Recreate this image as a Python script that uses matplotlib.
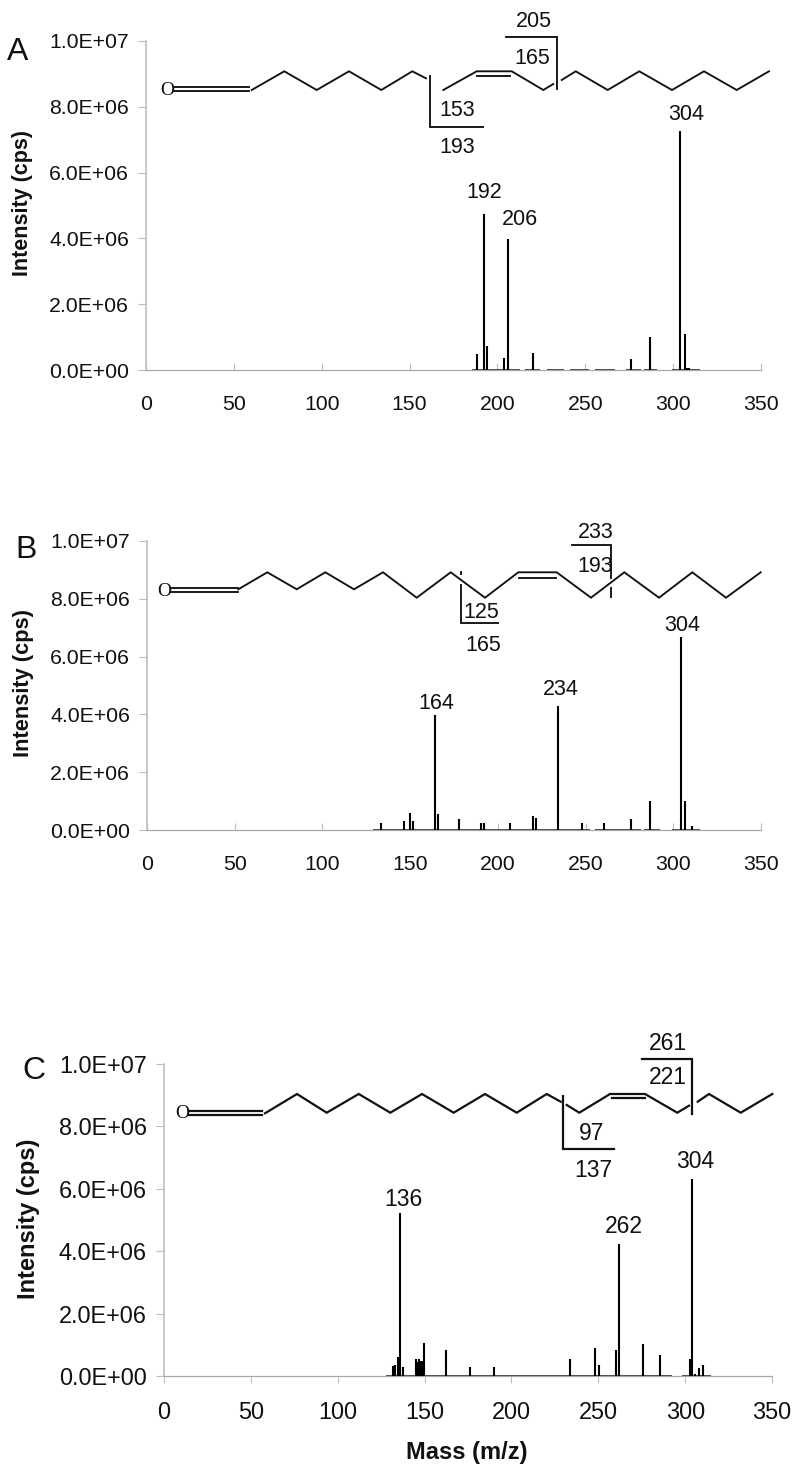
import matplotlib
matplotlib.use('Agg')
import matplotlib.pyplot as plt

plt.rcParams['font.family'] = ['Liberation Sans', 'DejaVu Sans']

W, H = 800, 1474

##%------------ data -----------
ticks_x = [0, 50, 100, 150, 200, 250, 300, 350]
ticks_y = [0, 2e6, 4e6, 6e6, 8e6, 1e7]
ticks_y_labels = ['0.0E+00', '2.0E+06', '4.0E+06', '6.0E+06', '8.0E+06', '1.0E+07']

mz_a = [188.5, 192.5, 194, 204, 206, 220, 276, 287, 304, 306.7, 308, 309]
int_a = [0.48e6, 4.73e6, 0.74e6, 0.37e6, 3.97e6, 0.53e6, 0.32e6, 0.99e6, 7.26e6, 1.09e6, 0.07e6, 0.07e6]
base_a = [(185.7, 212.8), (215.6, 224.2), (228, 237.8), (241.3, 252.3), (255.5, 266.9), (273, 281.5), (283.6, 291), (299.2, 315.3)]

mz_b = [133.4, 146.7, 149.7, 151.7, 164, 166, 178, 190.4, 192.3, 206.8, 220.2, 222, 234, 248, 260.7, 276, 286.8, 304.5, 306.5, 310.7]
int_b = [0.25e6, 0.3e6, 0.6e6, 0.3e6, 3.99e6, 0.54e6, 0.37e6, 0.25e6, 0.25e6, 0.25e6, 0.48e6, 0.43e6, 4.28e6, 0.25e6, 0.25e6, 0.37e6, 1.01e6, 6.68e6, 1.01e6, 0.14e6]
base_b = [(129, 252.5), (255.3, 281.6), (283.5, 292.4), (299, 315)]

mz_c = [132, 133.2, 134.5, 136, 137.6, 145, 146, 147, 148, 148.7, 149.7, 162.2, 176.2, 190.2, 234, 248.1, 250.2, 260, 262, 276, 285.6, 302.8, 304, 305.6, 308, 310]
int_c = [0.32e6, 0.35e6, 0.6e6, 5.24e6, 0.3e6, 0.53e6, 0.46e6, 0.53e6, 0.49e6, 0.47e6, 1.07e6, 0.83e6, 0.3e6, 0.3e6, 0.53e6, 0.9e6, 0.36e6, 0.83e6, 4.23e6, 1.01e6, 0.66e6, 0.53e6, 6.31e6, 0.06e6, 0.25e6, 0.36e6]
base_c = [(127.8, 292.3), (298, 315)]

## ------------ structures, in image pixels -----------
struct_a = [
    [(174, 87.3), (249, 87.3)], [(174, 91), (249, 91)],
    [(251.7, 90), (284.3, 71.3), (316.7, 90), (349, 71.3), (381.3, 90), (412.3, 71.3), (426, 78.3)],
    [(443.3, 90), (476.7, 71.3), (511.7, 71.3), (543.3, 90), (553.3, 84)],
    [(476.7, 76), (510, 76)],
    [(561.7, 80), (575.7, 71.3), (607.7, 90), (639.3, 71.3), (672, 90), (704, 71.3), (736.7, 90), (769, 71.3)],
    [(430, 76), (430, 127), (483, 127)],
    [(505.7, 37), (556.7, 37), (556.7, 89)],
]
struct_b = [
    [(170.7, 588), (237.7, 588)], [(170.7, 592.3), (237.7, 592.3)],
    [(238.3, 589.3), (267.3, 572.3), (296.7, 589.3), (325.3, 572.3), (354, 589.3), (383, 572.3), (416.7, 597.7),
     (450.7, 572.3), (485, 597.7), (518.3, 572.3), (556.7, 572.3), (591, 597.7), (624.3, 572.3), (659, 597.7),
     (692.3, 572.3), (726, 597.7), (760.7, 572.3)],
    [(519.3, 577.7), (556, 577.7)],
    [(460.7, 571.7), (460.7, 573.5)],
    [(460.7, 585), (460.7, 623.3), (498.3, 623.3)],
    [(571.7, 545), (611, 545), (611, 578)],
    [(611, 588), (611, 597)],
]
struct_c = [
    [(189.3, 1110.7), (262.3, 1110.7)], [(189.3, 1115), (262.3, 1115)],
    [(265, 1113.3), (297, 1094), (326.7, 1112.7), (358.7, 1094), (390.3, 1112.7), (422, 1094), (453.7, 1112.7),
     (485, 1094), (516.7, 1112.7), (546.7, 1094), (560.7, 1101.7)],
    [(566.7, 1105), (579.3, 1112.7), (610, 1094), (645, 1094), (677.3, 1112.7), (689, 1105.7)],
    [(611.7, 1098), (645, 1098)],
    [(697.7, 1101.7), (709, 1094), (740.7, 1112.7), (772.3, 1094)],
    [(563.3, 1096), (563.3, 1149.3), (614.3, 1149.3)],
    [(641.7, 1059), (692, 1059), (692, 1114)],
]

# label, x, y in image pixels
labels_a = [('205', 534.3, 20), ('165', 532.7, 56.7), ('153', 456.7, 109), ('193', 456.7, 146),
            ('304', 686.7, 112.7), ('192', 484, 191), ('206', 520, 218)]
labels_b = [('233', 596, 531), ('193', 595, 565), ('125', 481.7, 611), ('165', 483.3, 644),
            ('304', 682.7, 624), ('164', 436, 702), ('234', 561, 688)]
labels_c = [('261', 668.3, 1041.7), ('221', 668.3, 1076), ('97', 591.7, 1131.7), ('137', 593.3, 1169),
            ('304', 695, 1160), ('136', 403, 1198), ('262', 624, 1225)]

fig = plt.figure(figsize=(W / 100, H / 100), dpi=100)


def panel(left, right, top, bottom, mz, inten, base, fs, lab_fs, lab_x, lab_cy, pad_x, x_dir):
    ax = fig.add_axes([left / W, 1 - bottom / H, (right - left) / W, (bottom - top) / H])
    ax.set_xlim(0, 350)
    ax.set_ylim(0, 1e7)
    ax.patch.set_alpha(0)
    for s in ['top', 'right']:
        ax.spines[s].set_visible(False)
    ax.spines['left'].set_color('#bdbdbd')
    ax.spines['left'].set_linewidth(1.2)
    ax.spines['bottom'].set_color('#a8a8a8')
    ax.spines['bottom'].set_linewidth(0.9)
    ax.set_xticks(ticks_x)
    ax.set_yticks(ticks_y, labels=ticks_y_labels)
    ax.tick_params(axis='x', direction=x_dir, length=5, color='#bdbdbd', labelsize=fs, pad=pad_x,
                   labelcolor='#111111')
    ax.tick_params(axis='y', direction='out', length=5.8, color='#bdbdbd', labelsize=fs, pad=6.5,
                   labelcolor='#111111')
    for lo, hi in base:
        ax.hlines(0, lo, hi, color='#222222', lw=1.1, zorder=3)
    ax.vlines(mz, 0, inten, color='black', lw=1.5, zorder=4)
    fig.text(lab_x / W, 1 - lab_cy / H, 'Intensity (cps)', rotation=90, fontsize=lab_fs,
             fontweight='bold', ha='center', va='center', color='#111111')
    return ax


panel(146, 761, 41, 370, mz_a, int_a, base_a, 15.3, 15.5, 23, 203.5, 18, 'in')
panel(147, 761, 541, 830, mz_b, int_b, base_b, 15.3, 15.7, 24, 683, 18, 'in')
panel(164, 772, 1064, 1376, mz_c, int_c, base_c, 16.9, 17, 28, 1218.5, 13, 'out')

## ------------ overlay in pixel coordinates -----------
over = fig.add_axes([0, 0, 1, 1])
over.set_xlim(0, W)
over.set_ylim(H, 0)
over.axis('off')
over.patch.set_alpha(0)

for lines, lw in [(struct_a, 1.35), (struct_b, 1.35), (struct_c, 1.6)]:
    for ln in lines:
        over.plot([p[0] for p in ln], [p[1] for p in ln], color='#111111', lw=lw, solid_joinstyle='miter')

for labels, fs in [(labels_a, 15.5), (labels_b, 15.5), (labels_c, 16.5)]:
    for txt, x, y in labels:
        over.text(x, y + 1.5, txt, fontsize=fs, ha='center', va='center', color='#111111')

for txt, x, y in [('O', 167, 90.7), ('O', 164.3, 591.7), ('O', 182, 1113)]:
    over.text(x, y, txt, fontsize=14, family=['Liberation Serif'], ha='center', va='center', color='#111111')

for txt, x, y in [('A', 18, 52), ('B', 26, 550), ('C', 34, 1071)]:
    over.text(x, y, txt, fontsize=23, ha='center', va='center', color='#111111')

over.text(467, 1453, 'Mass (m/z)', fontsize=17, fontweight='bold', ha='center', va='center', color='#111111')

fig.savefig('out.png', dpi=100)
